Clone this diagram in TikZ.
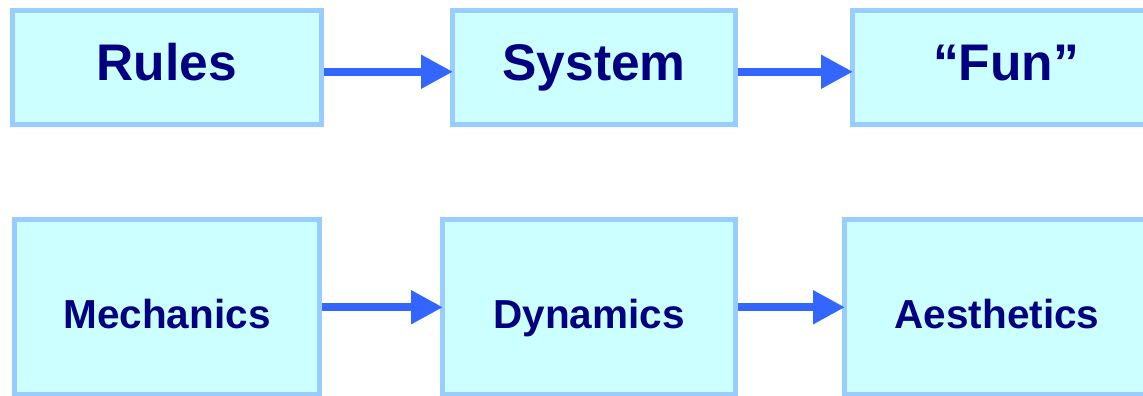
\documentclass[tikz,border=0pt]{standalone}
\usepackage{fontspec}
\setmainfont{Liberation Sans}
\usepackage{xcolor}
\usepackage{tikz}
\usetikzlibrary{positioning,arrows.meta}

\definecolor{boxfill}{RGB}{204,255,255}
\definecolor{boxline}{RGB}{153,204,255}
\definecolor{arrowblue}{RGB}{51,102,255}
\definecolor{navytext}{RGB}{0,0,128}

\begin{document}
\begin{tikzpicture}[
  x=1pt, y=1pt,
  stage/.style={draw=boxline, fill=boxfill, line width=5pt, rectangle,
    text=navytext, font=\bfseries, align=center},
  upper/.style={stage, minimum height=114.5pt, text height=37pt, text depth=12pt,
    font=\fontsize{51.5}{60}\selectfont\bfseries},
  lower/.style={stage, minimum height=175.5pt, text height=42pt, text depth=0pt,
    font=\fontsize{40.5}{48}\selectfont\bfseries},
  arr/.style={draw=arrowblue, line width=8pt, shorten >=-3pt,
    -{Triangle[length=32pt,width=32pt]}}
]
\path[use as bounding box, clip] (0,0) rectangle (1143,396);

% Top row
\node[upper, minimum width=308.5pt] (rules) at (166.75,328.25) {Rules};
\node[upper, minimum width=283pt] (system) at (594,328.25) {System};
\node[upper, minimum width=307pt] (fun) at (1006,328.25) {“Fun”};

% Bottom row
\node[lower, minimum width=305pt] (mech) at (167,88.75) {Mechanics};
\node[lower, minimum width=293pt] (dyn) at (589,88.75) {Dynamics};
\node[lower, minimum width=305pt] (aes) at (997,88.75) {Aesthetics};

% Arrows
\draw[arr] ([yshift=-4pt]rules.east) -- ([yshift=-4pt]system.west);
\draw[arr] ([yshift=-4pt]system.east) -- ([yshift=-4pt]fun.west);
\draw[arr] (mech.east) -- (dyn.west);
\draw[arr] (dyn.east) -- (aes.west);

\end{tikzpicture}
\end{document}
